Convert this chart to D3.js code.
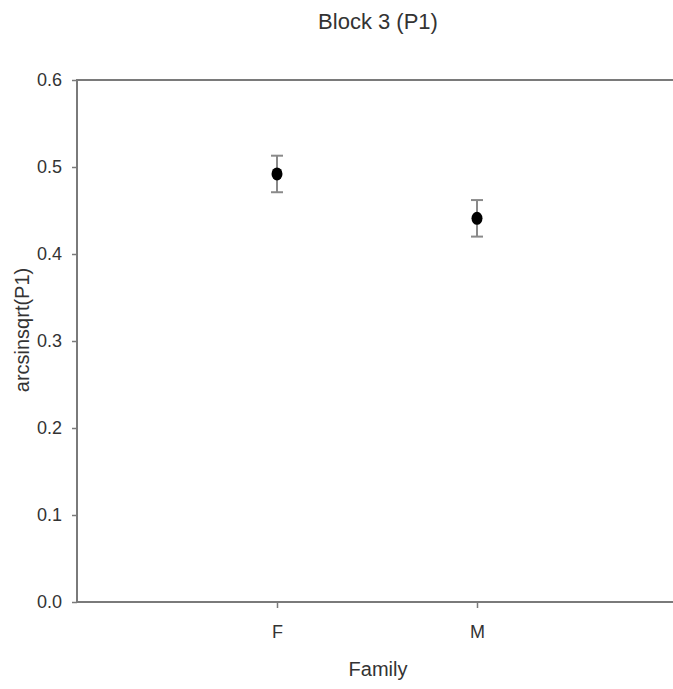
<!DOCTYPE html>
<html lang="en">
<head>
    <meta charset="UTF-8">
    <title>Block 3 (P1)</title>
    <script src="https://d3js.org/d3.v7.min.js"></script>
    <style>
        body {margin: 0; background: #fff;}
        text {font-family: "Liberation Sans", Arial, sans-serif; fill: #333;}
    </style>
</head>
<body>
<script>
    // data
    const families = ["F", "M"];
    const means = [0.492, 0.441];
    const errLow = [0.471, 0.420];
    const errHigh = [0.513, 0.462];
    const yTicks = [0.0, 0.1, 0.2, 0.3, 0.4, 0.5, 0.6];

    const width = 673;
    const height = 689;
    const margin = {top: 80, right: -4, bottom: 87, left: 77};

    const svg = d3.select("body").append("svg")
            .attr("width", width).attr("height", height);

    const x = d3.scalePoint().domain(families)
            .range([margin.left, width - margin.right]).padding(1);
    const y = d3.scaleLinear().domain([0, 0.6])
            .range([height - margin.bottom, margin.top]);

    const axisColor = "#7a7a7a";

    // y axis
    const yAxis = svg.append("g")
            .attr("transform", `translate(${margin.left},0)`)
            .call(d3.axisLeft(y).tickValues(yTicks).tickFormat(d3.format(".1f"))
                    .tickSize(5).tickPadding(10));
    yAxis.select(".domain").remove();
    yAxis.selectAll("line").attr("stroke", axisColor).attr("stroke-width", 1.5);
    yAxis.selectAll("text").style("font-size", "18px").attr("fill", "#333");

    // x axis
    const xAxis = svg.append("g")
            .attr("transform", `translate(0,${y(0)})`)
            .call(d3.axisBottom(x).tickSize(6).tickPadding(17));
    xAxis.select(".domain").remove();
    xAxis.selectAll("line").attr("stroke", axisColor).attr("stroke-width", 1.5);
    xAxis.selectAll("text").style("font-size", "18px").attr("fill", "#333");

    // frame
    const frame = svg.append("g").attr("fill", "none")
            .attr("stroke", axisColor).attr("stroke-width", 2);
    frame.append("line").attr("x1", margin.left).attr("x2", margin.left)
            .attr("y1", y(0.6)).attr("y2", y(0));
    frame.append("line").attr("x1", margin.left - 1).attr("x2", width - margin.right)
            .attr("y1", y(0)).attr("y2", y(0));
    frame.append("line").attr("x1", margin.left - 1).attr("x2", width - margin.right)
            .attr("y1", y(0.6)).attr("y2", y(0.6));

    // error bars
    const bars = svg.selectAll("g.err")
            .data(families)
            .enter()
            .append("g")
            .attr("class", "err")
            .attr("stroke", "#8a8a8a")
            .attr("stroke-width", 2);
    bars.append("line")
            .attr("x1", d => x(d)).attr("x2", d => x(d))
            .attr("y1", (d, i) => y(errHigh[i])).attr("y2", (d, i) => y(errLow[i]));
    bars.append("line")
            .attr("x1", d => x(d) - 6).attr("x2", d => x(d) + 6)
            .attr("y1", (d, i) => y(errHigh[i])).attr("y2", (d, i) => y(errHigh[i]));
    bars.append("line")
            .attr("x1", d => x(d) - 6).attr("x2", d => x(d) + 6)
            .attr("y1", (d, i) => y(errLow[i])).attr("y2", (d, i) => y(errLow[i]));

    // points
    svg.selectAll("ellipse.pt")
            .data(families)
            .enter()
            .append("ellipse")
            .attr("class", "pt")
            .attr("cx", d => x(d))
            .attr("cy", (d, i) => y(means[i]))
            .attr("rx", 5.5).attr("ry", 6.5)
            .attr("fill", "#000");

    // titles
    svg.append("text")
            .attr("x", 378).attr("y", 29)
            .attr("text-anchor", "middle")
            .style("font-size", "22px")
            .text("Block 3 (P1)");

    svg.append("text")
            .attr("x", 378).attr("y", 676)
            .attr("text-anchor", "middle")
            .style("font-size", "20px")
            .text("Family");

    svg.append("text")
            .attr("transform", "translate(29,330) rotate(-90)")
            .attr("text-anchor", "middle")
            .style("font-size", "20px")
            .text("arcsinsqrt(P1)");
</script>
</body>
</html>
